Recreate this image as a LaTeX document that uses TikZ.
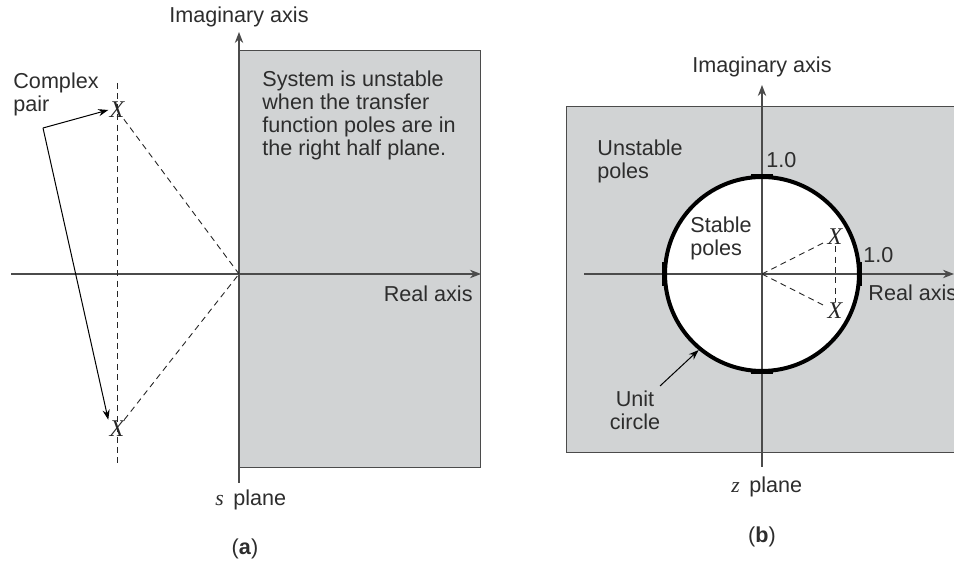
\documentclass[tikz,border=0pt]{standalone}
\usepackage{fontspec}
\setmainfont{Liberation Sans}
\newfontfamily\seriffont{Liberation Serif}
\usetikzlibrary{arrows.meta,calc}
\definecolor{shadegray}{RGB}{209,211,212}
\definecolor{txtgray}{RGB}{45,45,45}
\definecolor{axgray}{RGB}{75,75,75}
\newcommand{\varit}[1]{{\seriffont\itshape #1}}
\tikzset{
  lbl/.style={inner sep=0pt, text=txtgray, font=\fontsize{10.8}{11.5}\selectfont},
  mlbl/.style={lbl, align=left},
  axisline/.style={draw=axgray, line width=0.6pt},
  axarrow/.style={axisline, -{Stealth[length=5.5pt,width=4.2pt]}},
  dashline/.style={draw=black!85, line width=0.45pt, dash pattern=on 3pt off 2.2pt},
  pole/.style={inner sep=0.5pt, text=black!85, font=\fontsize{12}{12}\selectfont\seriffont\itshape},
  shadebox/.style={fill=shadegray, draw=axgray, line width=0.5pt},
  pointer/.style={draw=black, line width=0.5pt, -{Stealth[length=5pt,width=3.6pt]}},
  unitc/.style={draw=black, line width=2pt},
  tick/.style={draw=black, line width=1.6pt}
}
\begin{document}
\begin{tikzpicture}[x=0.5pt,y=-0.5pt]
\useasboundingbox (0,0) rectangle (954,565);
% ---------------- (a) s plane ----------------
\path[shadebox] (239,51) rectangle (480,468);
\coordinate (O1) at (239,274);
\coordinate (IA1b) at (239,483);
\coordinate (IA1t) at (239,32);
\coordinate (RA1l) at (11,274);
\coordinate (RA1r) at (481,274);
\draw[axarrow] (IA1b) -- (IA1t);
\draw[axarrow] (RA1l) -- (RA1r);
\coordinate (VDt) at (117,83);
\coordinate (VDb) at (117,463);
\draw[dashline] (VDt) -- (VDb);
\node[pole] (X1) at (117,110) {X};
\node[pole] (X2) at (117,429) {X};
\draw[dashline] (X1) -- (O1);
\draw[dashline] (X2) -- (O1);
\node[lbl, anchor=base] (ia1) at (239,23) {Imaginary axis};
\node[mlbl, anchor=base west] (cp) at (13,112) {Complex\\pair};
\coordinate (C1) at (43,128);
\draw[pointer] (C1) -- (X1.west);
\draw[pointer] (C1) -- (X2.north west);
\node[mlbl, anchor=base west] (unst) at (262,156) {System is unstable\\when the transfer\\function poles are in\\the right half plane.};
\node[lbl, anchor=base east] (ra1) at (473,302) {Real axis};
\node[lbl, anchor=base west] (sp) at (215,506) {\varit{s}\, plane};
\node[lbl, anchor=base] (capa) at (245,555) {(\textbf{a})};
% ---------------- (b) z plane ----------------
\path[shadebox] (566,107) rectangle (962,453);
\coordinate (O2) at (762,274);
\path[fill=white] (O2) circle [radius=97];
\coordinate (IA2b) at (762,467);
\coordinate (IA2t) at (762,85);
\coordinate (RA2l) at (584,274);
\coordinate (RA2r) at (954,274);
\draw[axarrow] (IA2b) -- (IA2t);
\draw[axarrow] (RA2l) -- (RA2r);
\draw[unitc] (O2) circle [radius=97];
\draw[tick] ($(O2)+(-11,-98)$) -- ($(O2)+(11,-98)$);
\draw[tick] ($(O2)+(-11,98)$) -- ($(O2)+(11,98)$);
\draw[tick] ($(O2)+(-98,-12)$) -- ($(O2)+(-98,12)$);
\draw[tick] ($(O2)+(98,-12)$) -- ($(O2)+(98,12)$);
\node[pole] (X3) at (835,237) {X};
\node[pole] (X4) at (835,311) {X};
\draw[dashline] (O2) -- (X3);
\draw[dashline] (O2) -- (X4);
\draw[dashline] (X3) -- (X4);
\node[lbl, anchor=base] (ia2) at (762,73) {Imaginary axis};
\node[mlbl, anchor=base west] (up) at (597,179) {Unstable\\poles};
\node[mlbl, anchor=base west] (stp) at (690,256) {Stable\\poles};
\node[lbl, anchor=base west] (one1) at (766,168) {1.0};
\node[lbl, anchor=base west] (one2) at (863,263) {1.0};
\node[lbl, anchor=base west] (ra2) at (868,301) {Real axis};
\node[lbl, align=center, anchor=base] (uc) at (635,430) {Unit\\circle};
\coordinate (UCs) at (660,386);
\coordinate (UCe) at ($(O2)+(129.8:99)$);
\draw[pointer] (UCs) -- (UCe);
\node[lbl, anchor=base west] (zp) at (731,493) {\varit{z}\, plane};
\node[lbl, anchor=base] (capb) at (762,543) {(\textbf{b})};
\end{tikzpicture}
\end{document}
